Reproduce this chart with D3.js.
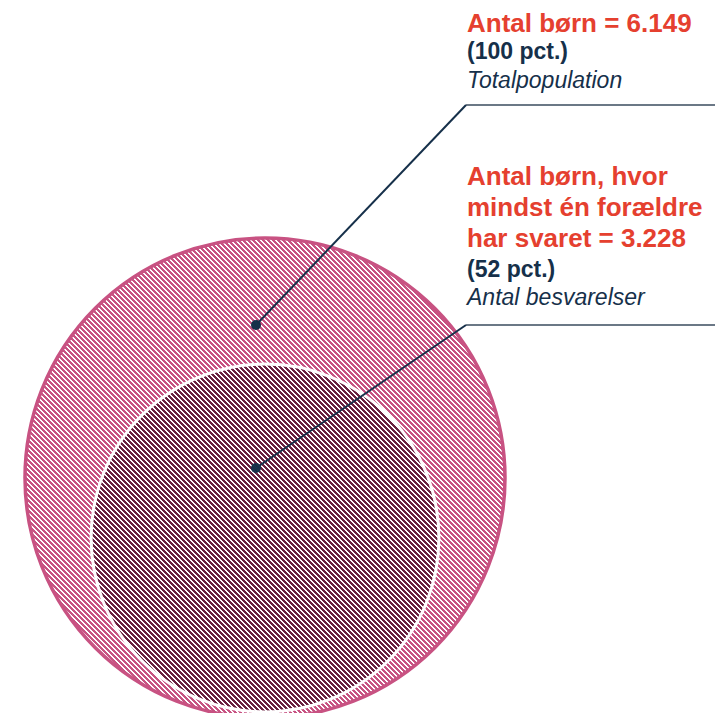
<!DOCTYPE html>
<html>
<head>
<meta charset="utf-8">
<script src="https://cdn.jsdelivr.net/npm/d3@7"></script>
<style>
  html, body { margin: 0; padding: 0; background: #fff; }
  svg { display: block; font-family: "Liberation Sans", Arial, sans-serif; }
</style>
</head>
<body>
<svg id="chart" width="715" height="713"></svg>
<script>
// Population sizes shown as nested bubbles
const groups = ["total", "respondents"];
const counts = [6149, 3228];
const pctLabels = ["(100 pct.)", "(52 pct.)"];
const headLines = [["Antal børn = 6.149"], ["Antal børn, hvor", "mindst én forældre", "har svaret = 3.228"]];
const subLabels = ["Totalpopulation", "Antal besvarelser"];

const fills = ["#c85282", "#6b1f40"];
const strokes = ["#c85282", "#ffffff"];

const svg = d3.select("#chart");
const W = 715;

// area-proportional radius
const r = d3.scaleSqrt().domain([0, d3.max(counts)]).range([0, 240]);
const cx = 265;
const bottoms = [718, 714];

// pixel-aligned diagonal hatching: 5px tile, two white pixels per row
const T = 5;
const defs = svg.append("defs");
groups.forEach((g, i) => {
  const p = defs.append("pattern")
    .attr("id", "hatch-" + g)
    .attr("patternUnits", "userSpaceOnUse")
    .attr("width", T).attr("height", T);
  p.append("rect").attr("width", T).attr("height", T).attr("fill", fills[i]);
  d3.range(T).forEach(y => {
    [y, (y + 1) % T].forEach(x => {
      p.append("rect")
        .attr("x", x).attr("y", y).attr("width", 1).attr("height", 1)
        .attr("fill", "#ffffff").attr("shape-rendering", "crispEdges");
    });
  });
});

const circles = groups.map((g, i) => ({
  g, value: counts[i], r: r(counts[i]), cy: bottoms[i] - r(counts[i])
}));
circles[1].cy = 538;

svg.selectAll("circle.bubble")
  .data(circles)
  .join("circle")
  .attr("class", "bubble")
  .attr("cx", cx)
  .attr("cy", d => d.cy)
  .attr("r", d => d.r)
  .attr("fill", d => `url(#hatch-${d.g})`)
  .attr("stroke", (d, i) => strokes[i])
  .attr("stroke-width", (d, i) => i === 0 ? 3.5 : 3);

// callouts: dot -> elbow -> horizontal rule, text block above the rule
const dots = [[256, 325], [256, 468]];
const ruleY = [105, 325];
const textX = 467;
const elbowX = 466;
const navy = "#16304a";
const red = "#e5402f";

dots.forEach((d, i) => {
  svg.append("line")
    .attr("x1", elbowX).attr("y1", ruleY[i])
    .attr("x2", W).attr("y2", ruleY[i])
    .attr("stroke", "#3a4b5e").attr("stroke-width", 1.5);
  svg.append("line")
    .attr("x1", d[0]).attr("y1", d[1])
    .attr("x2", elbowX).attr("y2", ruleY[i])
    .attr("stroke", navy).attr("stroke-width", 2);
  svg.append("circle")
    .attr("cx", d[0]).attr("cy", d[1]).attr("r", 5)
    .attr("fill", navy);
});

const headBaselines = [[32], [185, 216, 247]];
const pctBaselines = [59, 277];
const subBaselines = [88, 305];

groups.forEach((g, i) => {
  headLines[i].forEach((t, j) => {
    svg.append("text")
      .attr("x", textX).attr("y", headBaselines[i][j])
      .attr("fill", red).attr("font-size", 26).attr("font-weight", "bold")
      .text(t);
  });
  svg.append("text")
    .attr("x", textX).attr("y", pctBaselines[i])
    .attr("fill", navy).attr("font-size", 23).attr("font-weight", "bold")
    .text(pctLabels[i]);
  svg.append("text")
    .attr("x", textX).attr("y", subBaselines[i])
    .attr("fill", navy).attr("font-size", 23).attr("font-style", "italic")
    .text(subLabels[i]);
});
</script>
</body>
</html>
